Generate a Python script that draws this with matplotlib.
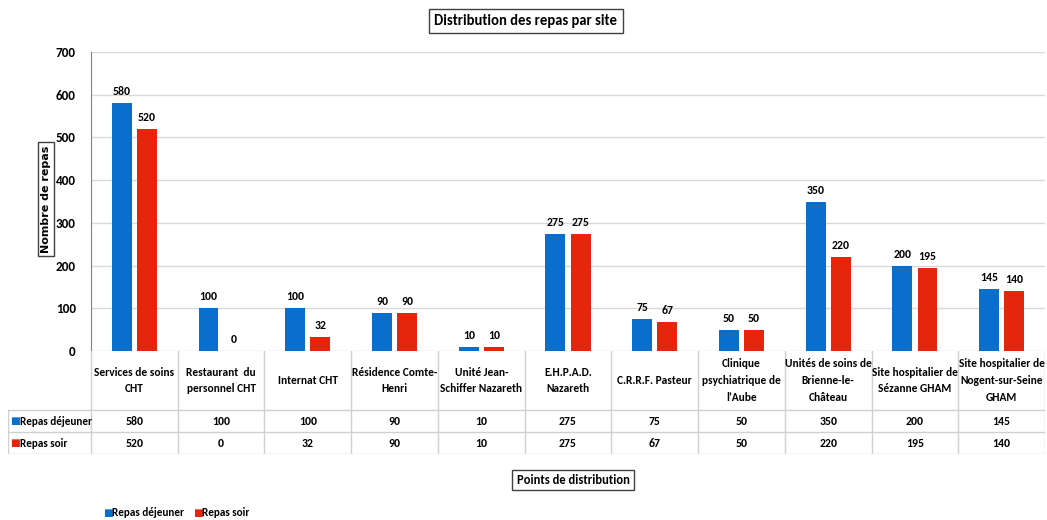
import matplotlib
matplotlib.use('Agg')
import matplotlib.pyplot as plt
import numpy as np

plt.rcParams['font.family'] = ['Carlito', 'Archivo Narrow', 'DejaVu Sans']

# Data
sites = ['Services de soins\nCHT', 'Restaurant  du\npersonnel CHT', 'Internat CHT',
         'Résidence Comte-\nHenri', 'Unité Jean-\nSchiffer Nazareth', 'E.H.P.A.D.\nNazareth',
         'C.R.R.F. Pasteur', 'Clinique\npsychiatrique de\nl\u2019Aube', 'Unités de soins de\nBrienne-le-\nChâteau',
         'Site hospitalier de\nSézanne GHAM', 'Site hospitalier de\nNogent-sur-Seine\nGHAM']
dejeuner = [580, 100, 100, 90, 10, 275, 75, 50, 350, 200, 145]
soir = [520, 0, 32, 90, 10, 275, 67, 50, 220, 195, 140]
series_names = ['Repas déjeuner', 'Repas soir']
yticks = [0, 100, 200, 300, 400, 500, 600, 700]

blue = '#0A6FCC'
red = '#E5260B'
grid_c = '#D9D9D9'

W, H = 1047, 520
fig = plt.figure(figsize=(W / 100, H / 100), dpi=100)

# plot area in pixels
left, right, top, bottom = 91, 1045, 52, 351
ax = fig.add_axes([left / W, 1 - bottom / H, (right - left) / W, (bottom - top) / H])

x = np.arange(len(sites))
bw = 0.23
off = 0.145
ax.bar(x - off, dejeuner, bw, color=blue, zorder=3)
ax.bar(x + off, soir, bw, color=red, zorder=3)
for i in range(len(sites)):
    ax.text(x[i] - off, dejeuner[i] + 14, str(dejeuner[i]), ha='center', va='bottom',
            fontsize=8.5, fontweight='bold')
    ax.text(x[i] + off, soir[i] + 14, str(soir[i]), ha='center', va='bottom',
            fontsize=8.5, fontweight='bold')

ax.set_xlim(-0.5, len(sites) - 0.5)
ax.set_ylim(0, 700)
ax.set_yticks(yticks)
ax.set_yticklabels([str(t) for t in yticks], fontsize=9.5, fontweight='bold')
ax.tick_params(axis='y', length=0, pad=11)
ax.set_xticks([])
ax.grid(axis='y', color=grid_c, linewidth=1, zorder=0)
for s in ['top', 'right', 'bottom']:
    ax.spines[s].set_visible(False)
ax.spines['left'].set_color('#808080')

# data table
ppu = (right - left) / len(sites)
lab_left = 8
tbl_bottom = 454
tax = fig.add_axes([lab_left / W, 1 - tbl_bottom / H, (right - lab_left) / W, (tbl_bottom - bottom) / H])
tax.set_xlim(-0.5 - (left - lab_left) / ppu, len(sites) - 0.5)
tax.set_ylim(tbl_bottom, bottom)
tax.axis('off')
lc = '#D0D0D0'
xl = -0.5 - (left - lab_left) / ppu
for b in np.arange(-0.5, len(sites), 1.0):
    tax.plot([b, b], [bottom, tbl_bottom], color=lc, lw=1)
tax.plot([xl, xl], [410, tbl_bottom], color=lc, lw=1)
for yy in [410, 432, 454]:
    tax.plot([xl, len(sites) - 0.5], [yy, yy], color=lc, lw=1)
for i, s in enumerate(sites):
    tax.text(x[i], 380.5, s, ha='center', va='center', fontsize=8.2, fontweight='bold',
             linespacing=1.65)
    tax.text(x[i], 421, str(dejeuner[i]), ha='center', va='center', fontsize=8.5, fontweight='bold')
    tax.text(x[i], 443, str(soir[i]), ha='center', va='center', fontsize=8.5, fontweight='bold')
for yy, name, c in [(421, series_names[0], blue), (443, series_names[1], red)]:
    tax.text(xl + 2 / ppu, yy, '\u25a0', color=c, ha='left', va='center', fontsize=7.5,
             family='DejaVu Sans')
    tax.text(xl + 12 / ppu, yy, name, ha='left', va='center', fontsize=8, fontweight='bold')

box = dict(boxstyle='square,pad=0.35', fc='white', ec='#404040', lw=1)
fig.text(526 / W, 1 - 21 / H, 'Distribution des repas par site', ha='center', va='center',
         fontsize=10.5, fontweight='bold', bbox=box)
fig.text(573 / W, 1 - 480 / H, 'Points de distribution', ha='center', va='center',
         fontsize=9, fontweight='bold', bbox=box)
fig.text(46 / W, 1 - 199 / H, 'Nombre de repas', ha='center', va='center', rotation=90,
         fontsize=8, fontweight='bold', family='DejaVu Sans',
         bbox=dict(boxstyle='square,pad=0.3', fc='white', ec='#404040', lw=1))

# legend
fig.text(103 / W, 1 - 513 / H, '\u25a0', color=blue, ha='left', va='center', fontsize=7.5,
         family='DejaVu Sans')
fig.text(112 / W, 1 - 513 / H, series_names[0], ha='left', va='center', fontsize=8, fontweight='bold')
fig.text(193 / W, 1 - 513 / H, '\u25a0', color=red, ha='left', va='center', fontsize=7.5,
         family='DejaVu Sans')
fig.text(202 / W, 1 - 513 / H, series_names[1], ha='left', va='center', fontsize=8, fontweight='bold')

fig.savefig('out.png', dpi=100)
